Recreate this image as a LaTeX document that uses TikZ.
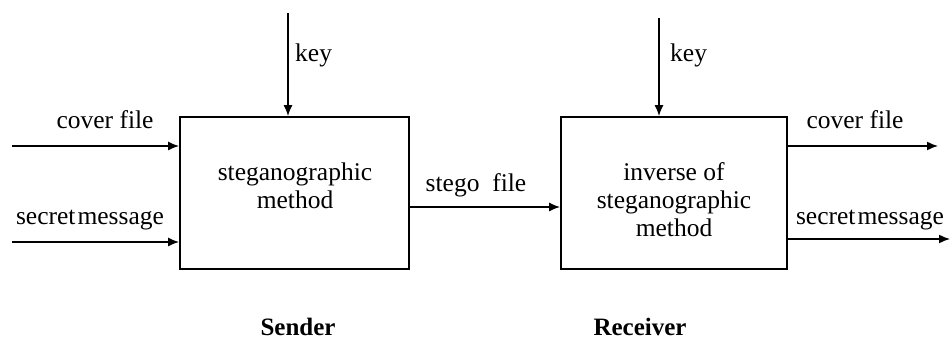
\documentclass[tikz,border=0pt]{standalone}
\usepackage{fontspec}
\setmainfont{Liberation Serif}
\usetikzlibrary{arrows.meta}
\begin{document}
\begin{tikzpicture}[x=1pt,y=1pt,
  lbl/.style={font=\fontsize{25.5}{28}\selectfont, inner sep=0pt},
  blk/.style={draw, line width=1.8pt, inner sep=0pt, minimum width=#1, minimum height=152},
  arr/.style={line width=1.5pt, -{Latex[length=11pt,width=9pt]}}]
\useasboundingbox (0,0) rectangle (951,340);
% boxes
\node[blk=229] (b1) at (294.5,147) {};
\node[blk=226] (b2) at (674,147) {};
\node[lbl, align=center] (t1) at (295,154) {steganographic\\method};
\node[lbl, align=center] (t2) at (674,140) {inverse of\\steganographic\\method};
% free ends
\coordinate (k1) at (288,327);
\coordinate (k2) at (659,322);
\coordinate (ci) at (12,194);
\coordinate (si) at (12,98);
\coordinate (co) at (938,194);
\coordinate (so) at (950,101);
\coordinate (sy) at (0,133);
% arrows
\draw[arr] (k1) -- (k1 |- b1.north);
\draw[arr] (k2) -- (k2 |- b2.north);
\draw[arr] (ci) -- (ci -| b1.west);
\draw[arr] (si) -- (si -| b1.west);
\draw[arr] (sy -| b1.east) -- (sy -| b2.west);
\draw[arr] (co -| b2.east) -- (co);
\draw[arr] (so -| b2.east) -- (so);
% labels
\node[lbl, anchor=west] (key1) at (295,285) {key};
\node[lbl, anchor=west] (key2) at (670,285) {key};
\node[lbl] (lc1) at (105,220) {cover file};
\node[lbl] (ls1) at (90,120) {secret\kern0.08em message};
\node[lbl] (lst) at (476,155) {stego\ \ file};
\node[lbl] (lc2) at (855,220) {cover file};
\node[lbl] (ls2) at (870,120) {secret\kern0.08em message};
\node[lbl, font=\fontsize{25}{28}\selectfont\bfseries] (snd) at (298,13) {Sender};
\node[lbl, font=\fontsize{25}{28}\selectfont\bfseries] (rcv) at (640,13) {Receiver};
\end{tikzpicture}
\end{document}
